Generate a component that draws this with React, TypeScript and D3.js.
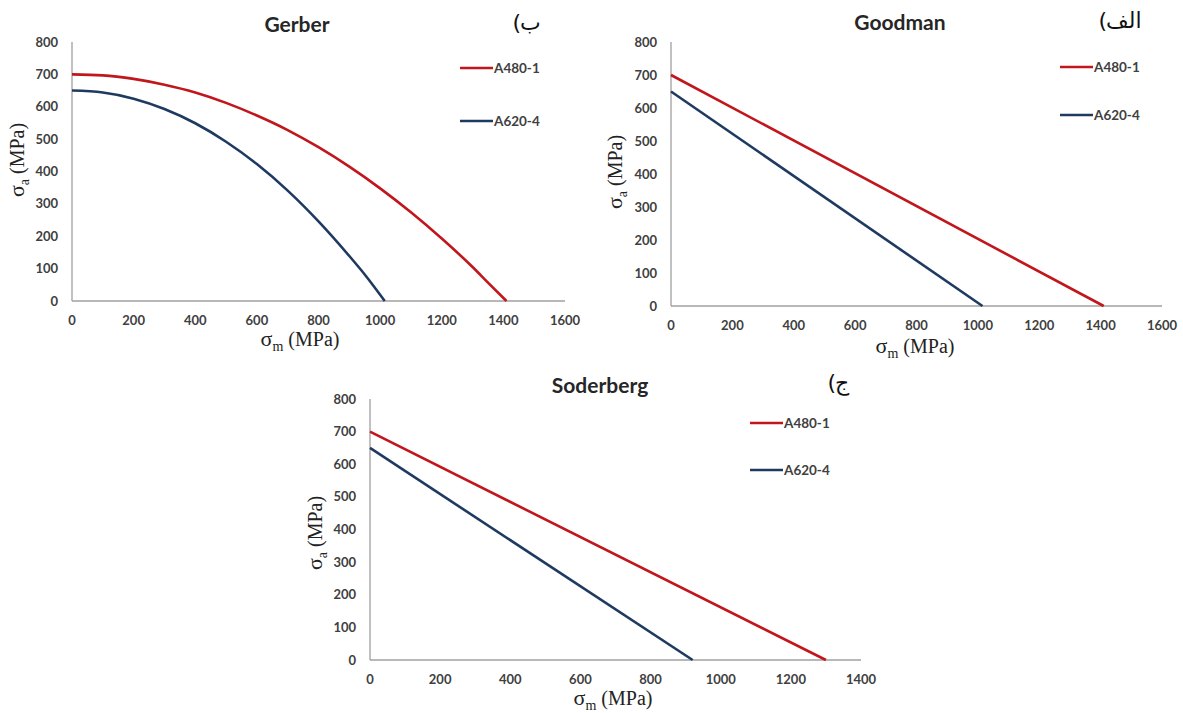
import React from "react";
import * as d3 from "d3";

// ---------- DATA ----------
const seriesNames = ["A480-1", "A620-4"];
const seriesColors = ["#C0161C", "#1F3A60"];

// Gerber (parabolic) curves
const gerberSigmaM_A480 = [0, 100, 200, 300, 400, 500, 600, 700, 800, 900, 1000, 1100, 1200, 1300, 1350, 1410];
const gerberSigmaA_A480 = [700, 697, 686, 668, 644, 612, 573, 528, 475, 415, 348, 274, 193, 105, 57, 0];
const gerberSigmaM_A620 = [0, 100, 200, 300, 400, 500, 600, 700, 800, 900, 950, 1015];
const gerberSigmaA_A620 = [650, 644, 625, 593, 549, 492, 423, 341, 246, 139, 82, 0];

// Goodman (straight lines)
const goodmanSigmaM_A480 = [0, 1410];
const goodmanSigmaA_A480 = [700, 0];
const goodmanSigmaM_A620 = [0, 1015];
const goodmanSigmaA_A620 = [650, 0];

// Soderberg (straight lines)
const soderbergSigmaM_A480 = [0, 1300];
const soderbergSigmaA_A480 = [700, 0];
const soderbergSigmaM_A620 = [0, 920];
const soderbergSigmaA_A620 = [650, 0];

const yTicks = [0, 100, 200, 300, 400, 500, 600, 700, 800];
const xTicks1600 = [0, 200, 400, 600, 800, 1000, 1200, 1400, 1600];
const xTicks1400 = [0, 200, 400, 600, 800, 1000, 1200, 1400];

const titles = ["Gerber", "Goodman", "Soderberg"];
// panel letters (Persian): ب) , الف) , ج) — the closing parenthesis shows on the left in RTL
const panelLetters = ["ب", "الف", "ج"];

type Pt = [number, number];
const zip = (xs: number[], ys: number[]): Pt[] => xs.map((x, i) => [x, ys[i]]);

// ---------- LAYOUT ----------
interface PanelLayout {
  left: number; right: number; top: number; bottom: number;
  xMax: number; xTicks: number[];
  titleX: number; titleY: number;
  tagX: number; tagY: number;
  legX: number; legY: number[];
  xTitleX: number; xTitleY: number;
  yTitleX: number; yTitleY: number;
}

const serif = "'Liberation Serif', 'Times New Roman', serif";
const sans = "Lato, 'Open Sans', sans-serif";

function Panel({ L, title, letter, series }: { L: PanelLayout; title: string; letter: string; series: Pt[][] }) {
  const x = d3.scaleLinear().domain([0, L.xMax]).range([L.left, L.right]);
  const y = d3.scaleLinear().domain([0, 800]).range([L.bottom, L.top]);
  const line = d3.line<Pt>().x(d => x(d[0])).y(d => y(d[1])).curve(d3.curveMonotoneX);
  const tickStyle = { fontFamily: sans, fontSize: 13, fontWeight: 700 as const, fill: "#404040" };
  const axTitleStyle = { fontFamily: serif, fill: "#222" };
  const tagStyle = { fontFamily: "'DejaVu Sans', sans-serif", fontSize: 22, fill: "#111" };
  return (
    <g>
      {/* axes */}
      <line x1={x(0)} x2={x(L.xMax)} y1={y(0)} y2={y(0)} stroke="#a0a0a0" strokeWidth={1.3} />
      <line x1={x(0)} x2={x(0)} y1={y(0)} y2={y(800)} stroke="#a0a0a0" strokeWidth={1.3} />
      {yTicks.map(t => (
        <text key={"y" + t} x={L.left - 14} y={y(t)} dy="0.35em" textAnchor="end" style={tickStyle}>{t}</text>
      ))}
      {L.xTicks.map(t => (
        <text key={"x" + t} x={x(t)} y={y(0) + 19} dy="0.35em" textAnchor="middle" style={tickStyle}>{t}</text>
      ))}
      {/* series */}
      {series.map((s, i) => (
        <path key={i} d={line(s) || ""} fill="none" stroke={seriesColors[i]} strokeWidth={2.6} />
      ))}
      {/* legend */}
      {seriesNames.map((n, i) => (
        <g key={n}>
          <line x1={L.legX} x2={L.legX + 33} y1={L.legY[i]} y2={L.legY[i]} stroke={seriesColors[i]} strokeWidth={2.6} />
          <text x={L.legX + 34} y={L.legY[i]} dy="0.35em" style={{ fontFamily: sans, fontSize: 13.5, fontWeight: 700, fill: "#404040" }}>{n}</text>
        </g>
      ))}
      {/* title */}
      <text x={L.titleX} y={L.titleY} textAnchor="middle" style={{ fontFamily: sans, fontSize: 21, fontWeight: 700, fill: "#262626" }}>{title}</text>
      {/* panel tag: parenthesis drawn on the left, letters to its right */}
      <text x={L.tagX + 1} y={L.tagY} textAnchor="end" style={tagStyle}>(</text>
      <text x={L.tagX} y={L.tagY} textAnchor="start" style={tagStyle}>{letter}</text>
      {/* axis titles */}
      <text x={L.xTitleX} y={L.xTitleY} textAnchor="middle" style={axTitleStyle}>
        <tspan fontSize={22}>σ</tspan>
        <tspan fontSize={14} dy={5}>m</tspan>
        <tspan fontSize={20} dy={-5}> (MPa)</tspan>
      </text>
      <text transform={`translate(${L.yTitleX},${L.yTitleY}) rotate(-90)`} textAnchor="middle" style={axTitleStyle}>
        <tspan fontSize={22}>σ</tspan>
        <tspan fontSize={14} dy={5}>a</tspan>
        <tspan fontSize={20} dy={-5}> (MPa)</tspan>
      </text>
    </g>
  );
}

const layouts: PanelLayout[] = [
  {
    left: 72, right: 565, top: 42, bottom: 301, xMax: 1600, xTicks: xTicks1600,
    titleX: 297, titleY: 32, tagX: 520, tagY: 30, legX: 460, legY: [68, 121],
    xTitleX: 300, xTitleY: 346, yTitleX: 24, yTitleY: 160,
  },
  {
    left: 671, right: 1162, top: 42, bottom: 306, xMax: 1600, xTicks: xTicks1600,
    titleX: 900, titleY: 30, tagX: 1106, tagY: 28, legX: 1060, legY: [67, 115],
    xTitleX: 915, xTitleY: 353, yTitleX: 622, yTitleY: 172,
  },
  {
    left: 370, right: 861, top: 399, bottom: 660, xMax: 1400, xTicks: xTicks1400,
    titleX: 600, titleY: 393, tagX: 835, tagY: 390, legX: 750, legY: [423, 470],
    xTitleX: 613, xTitleY: 705, yTitleX: 322, yTitleY: 533,
  },
];

export default function App() {
  const allSeries: Pt[][][] = [
    [zip(gerberSigmaM_A480, gerberSigmaA_A480), zip(gerberSigmaM_A620, gerberSigmaA_A620)],
    [zip(goodmanSigmaM_A480, goodmanSigmaA_A480), zip(goodmanSigmaM_A620, goodmanSigmaA_A620)],
    [zip(soderbergSigmaM_A480, soderbergSigmaA_A480), zip(soderbergSigmaM_A620, soderbergSigmaA_A620)],
  ];
  return (
    <svg width={1183} height={713} style={{ position: "absolute", left: 0, top: 0, background: "#fff" }}>
      <rect width={1183} height={713} fill="#fff" />
      {layouts.map((L, i) => (
        <Panel key={i} L={L} title={titles[i]} letter={panelLetters[i]} series={allSeries[i]} />
      ))}
    </svg>
  );
}
